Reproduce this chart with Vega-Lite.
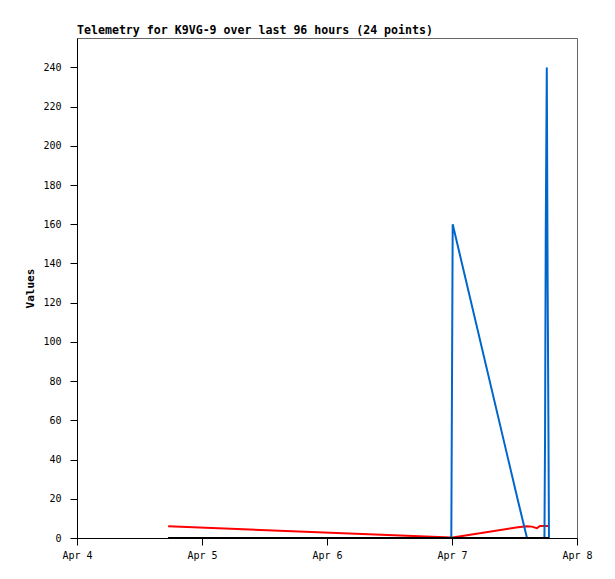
{
  "$schema": "https://vega.github.io/schema/vega-lite/v6.json",
  "width": 500,
  "height": 500,
  "autosize": {"type": "none"},
  "padding": {"left": 77, "top": 38, "right": 38, "bottom": 41},
  "background": "white",
  "title": {
    "text": "Telemetry for K9VG-9 over last 96 hours (24 points)",
    "anchor": "start",
    "frame": "group",
    "font": "DejaVu Sans Mono",
    "fontSize": 11.6,
    "fontWeight": "bold",
    "color": "black",
    "offset": 1
  },
  "config": {
    "view": {"stroke": "#666666", "strokeWidth": 1},
    "axis": {
      "labelFont": "DejaVu Sans Mono",
      "labelFontSize": 10,
      "labelColor": "black",
      "titleFont": "DejaVu Sans Mono",
      "titleFontSize": 11,
      "titleFontWeight": "bold",
      "titleColor": "black",
      "domainColor": "black",
      "tickColor": "black",
      "grid": false
    }
  },
  "data": {
    "values": [
      {"time": "2024-04-04T17:30:00", "ch1": 6.0, "ch2": 0, "ch3": 0},
      {"time": "2024-04-06T23:52:00", "ch1": 0.2, "ch2": 0, "ch3": 0},
      {"time": "2024-04-07T00:00:00", "ch1": 0.2, "ch2": 80, "ch3": 0},
      {"time": "2024-04-07T00:08:00", "ch1": 0.3, "ch2": 160, "ch3": 0},
      {"time": "2024-04-07T12:40:00", "ch1": 5.5, "ch2": 19, "ch3": 0},
      {"time": "2024-04-07T14:24:00", "ch1": 6.0, "ch2": 0, "ch3": 0},
      {"time": "2024-04-07T15:20:00", "ch1": 5.8, "ch2": 0, "ch3": 0},
      {"time": "2024-04-07T16:19:00", "ch1": 5.0, "ch2": 0, "ch3": 0},
      {"time": "2024-04-07T16:53:00", "ch1": 6.1, "ch2": 0, "ch3": 0},
      {"time": "2024-04-07T17:45:00", "ch1": 6.1, "ch2": 0, "ch3": 0},
      {"time": "2024-04-07T17:52:00", "ch1": 6.1, "ch2": 52, "ch3": 0},
      {"time": "2024-04-07T18:00:00", "ch1": 6.1, "ch2": 156, "ch3": 0},
      {"time": "2024-04-07T18:12:00", "ch1": 6.1, "ch2": 240, "ch3": 0},
      {"time": "2024-04-07T18:22:00", "ch1": 6.1, "ch2": 128, "ch3": 0},
      {"time": "2024-04-07T18:30:00", "ch1": 6.1, "ch2": 64, "ch3": 0},
      {"time": "2024-04-07T18:37:00", "ch1": 6.1, "ch2": 0, "ch3": 0}
    ]
  },
  "encoding": {
    "x": {
      "field": "time",
      "type": "temporal",
      "scale": {"domain": ["2024-04-04T00:00:00", "2024-04-08T00:00:00"]},
      "axis": {
        "title": null,
        "format": "%b %-d",
        "tickCount": {"interval": "day", "step": 1},
        "tickSize": 7,
        "labelPadding": 5,
        "labelFlush": false,
        "labelOverlap": false
      }
    }
  },
  "layer": [
    {
      "mark": {"type": "line", "color": "#ff0000", "strokeWidth": 2, "interpolate": "linear"},
      "encoding": {
        "y": {
          "field": "ch1",
          "type": "quantitative",
          "scale": {"domain": [0, 255], "nice": false, "zero": true},
          "axis": {
            "title": "Values",
            "values": [0, 20, 40, 60, 80, 100, 120, 140, 160, 180, 200, 220, 240],
            "tickSize": 7,
            "labelPadding": 9,
            "titlePadding": 7
          }
        }
      }
    },
    {
      "mark": {"type": "line", "color": "#0066cc", "strokeWidth": 2},
      "encoding": {"y": {"field": "ch2", "type": "quantitative"}}
    },
    {
      "mark": {"type": "line", "color": "#000000", "strokeWidth": 2},
      "encoding": {"y": {"field": "ch3", "type": "quantitative"}}
    }
  ]
}
